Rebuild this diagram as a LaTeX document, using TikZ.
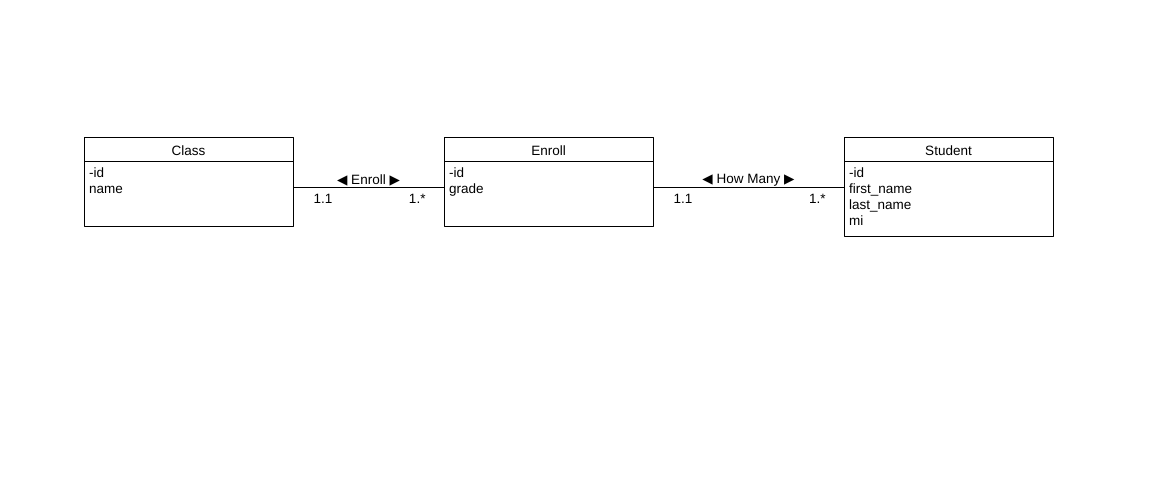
\documentclass[tikz,border=0pt]{standalone}
\usepackage{fontspec}
\setmainfont{Liberation Sans}
\newfontfamily\symfont{DejaVu Sans}
\usetikzlibrary{positioning}
\tikzset{
  clshead/.style={draw, line width=1pt, outer sep=0pt, inner sep=0pt, minimum width=209pt, minimum height=24pt, text height=11pt, text depth=0pt},
  clsbody/.style={draw, line width=1pt, outer sep=0pt, inner sep=0pt, minimum width=209pt, minimum height=#1},
  attrs/.style={anchor=north west, align=left, inner xsep=5pt, inner ysep=0pt, yshift=-4pt},
  assoc/.style={above, inner sep=1.5pt},
  mult/.style={inner sep=0pt, yshift=-5.5pt},
}
\newcommand\triL{{\symfont ◀}}
\newcommand\triR{{\symfont ▶}}
\begin{document}
\begin{tikzpicture}[x=1pt, y=-1pt, font=\fontsize{13.5pt}{16pt}\selectfont, line join=round]
  \fill[white] (0,0) rectangle (1174,478);
  \useasboundingbox (0,0) rectangle (1174,478);

  % classes
  \node[clshead] (cls) at (188.5,150) {Class};
  \node[clsbody=65pt, below=0pt of cls] (clsbody) {};
  \node[attrs] at (clsbody.north west) {\strut-id\\name};

  \node[clshead, right=151pt of cls] (enr) {Enroll};
  \node[clsbody=65pt, below=0pt of enr] (enrbody) {};
  \node[attrs] at (enrbody.north west) {\strut-id\\grade};

  \node[clshead, right=191pt of enr] (stu) {Student};
  \node[clsbody=75pt, below=0pt of stu] (stubody) {};
  \node[attrs] at (stubody.north west) {\strut-id\\first\_name\\last\_name\\mi};

  % associations
  \draw[line width=1pt] ([yshift=6.5pt]clsbody.east) -- node[assoc] {\triL\ Enroll \triR}
    node[at start, mult, anchor=north west, xshift=20pt] {1.1}
    node[at end, mult, anchor=north east, xshift=-18pt] {1.*} ([yshift=6.5pt]enrbody.west);
  \draw[line width=1pt] ([yshift=6.5pt]enrbody.east) -- node[assoc] {\triL\ How Many \triR}
    node[at start, mult, anchor=north west, xshift=20pt] {1.1}
    node[at end, mult, anchor=north east, xshift=-18pt] {1.*} ([yshift=11.5pt]stubody.west);
\end{tikzpicture}
\end{document}
